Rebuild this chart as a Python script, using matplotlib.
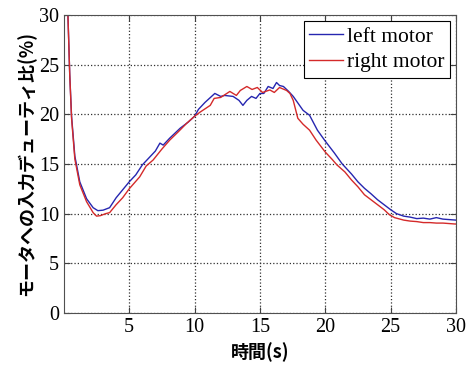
import numpy as np
import matplotlib.pyplot as plt

# left motor (blue)
left_t = [0.3, 0.45, 0.59, 0.84, 1.22, 1.74, 2.24, 2.6, 3.0, 3.5, 4.0, 4.5, 5.0, 5.5,
          6.0, 6.5, 7.0, 7.35, 7.6, 8.1, 8.9, 9.5, 10.0, 10.3, 10.8, 11.55, 12.0, 12.3,
          12.95, 13.4, 13.7, 14.0, 14.36, 14.7, 15.0, 15.3, 15.63, 16.0, 16.27, 16.5,
          16.8, 17.2, 17.55, 18.3, 18.8, 19.4, 20.0, 20.7, 21.3, 22.0, 22.5, 23.0, 23.5,
          24.0, 24.5, 25.0, 25.45, 26.0, 26.5, 27.0, 27.5, 28.0, 28.5, 29.0, 29.5, 30.0]
left_duty = [30.5, 24.0, 19.8, 15.8, 13.2, 11.5, 10.6, 10.3, 10.35, 10.6, 11.6, 12.4, 13.2,
             13.9, 14.9, 15.6, 16.3, 17.1, 16.9, 17.6, 18.6, 19.2, 19.8, 20.5, 21.2, 22.1,
             21.8, 21.9, 21.8, 21.4, 20.9, 21.4, 21.8, 21.6, 22.1, 22.1, 22.8, 22.6, 23.2,
             22.9, 22.8, 22.3, 21.8, 20.4, 19.9, 18.4, 17.3, 16.1, 15.0, 14.0, 13.2, 12.55,
             12.0, 11.4, 10.9, 10.4, 10.0, 9.75, 9.65, 9.5, 9.55, 9.45, 9.6, 9.45, 9.4, 9.35]

# right motor (red)
right_t = [0.3, 0.45, 0.59, 0.84, 1.22, 1.74, 2.24, 2.5, 2.8, 3.2, 3.5, 4.0, 4.5, 5.0,
           5.8, 6.3, 6.83, 7.5, 8.1, 8.8, 9.4, 10.0, 10.4, 11.2, 11.5, 12.0, 12.7, 13.2,
           13.5, 14.0, 14.4, 14.8, 15.2, 15.76, 16.1, 16.5, 17.04, 17.3, 17.55, 17.9,
           18.3, 18.8, 19.3, 20.0, 20.5, 20.9, 21.5, 22.0, 22.5, 23.0, 23.5, 24.0, 24.5,
           24.9, 25.3, 26.0, 26.5, 27.0, 27.5, 28.0, 28.5, 29.0, 29.5, 30.0]
right_duty = [30.5, 24.0, 19.6, 15.5, 12.9, 11.2, 10.1, 9.75, 9.8, 10.0, 10.1, 10.9, 11.6,
              12.5, 13.7, 14.8, 15.4, 16.5, 17.4, 18.3, 19.1, 19.8, 20.2, 20.9, 21.6, 21.7,
              22.3, 21.9, 22.4, 22.8, 22.5, 22.7, 22.2, 22.45, 22.2, 22.7, 22.4, 22.1, 21.4,
              19.6, 19.0, 18.4, 17.4, 16.2, 15.5, 14.9, 14.2, 13.4, 12.7, 11.9, 11.4, 10.9,
              10.4, 9.9, 9.6, 9.35, 9.25, 9.2, 9.1, 9.1, 9.05, 9.05, 9.0, 8.95]

x_ticks = [5, 10, 15, 20, 25, 30]
y_ticks = [0, 5, 10, 15, 20, 25, 30]

plt.rcParams['font.family'] = ['Liberation Serif', 'Noto Sans CJK JP']
jp_font = ['Noto Sans CJK JP', 'DejaVu Sans']

fig = plt.figure(figsize=(4.73, 3.65), dpi=100)
ax = fig.add_axes([0.135, 0.1425, 0.829, 0.8165])

ax.plot(left_t, left_duty, color='#2626b0', linewidth=1.0, label='left motor')
ax.plot(right_t, right_duty, color='#d42a2a', linewidth=1.0, label='right motor')

ax.set_xlim(0, 30)
ax.set_ylim(0, 30)
ax.set_xticks(x_ticks)
ax.set_yticks(y_ticks)
ax.tick_params(direction='in', top=True, right=True, labelsize=14.5, length=4,
               color='#404040')
ax.grid(True, linestyle=':', color='#303030', linewidth=0.9)
for s in ax.spines.values():
    s.set_color('#505050')

ax.set_xlabel('時間(s)', family=jp_font, fontsize=13, fontweight='bold', labelpad=4)
ax.set_ylabel('モータへの入力デューティ比(%)', family=jp_font, fontsize=13,
              fontweight='bold', labelpad=2)

leg = ax.legend(loc='upper right', fontsize=15.5, fancybox=False, framealpha=1,
                edgecolor='black', borderpad=0.25, handlelength=1.6,
                handletextpad=0.15, labelspacing=0.25, borderaxespad=0.3)
leg.get_frame().set_linewidth(0.8)

fig.savefig('out.png', dpi=100)
